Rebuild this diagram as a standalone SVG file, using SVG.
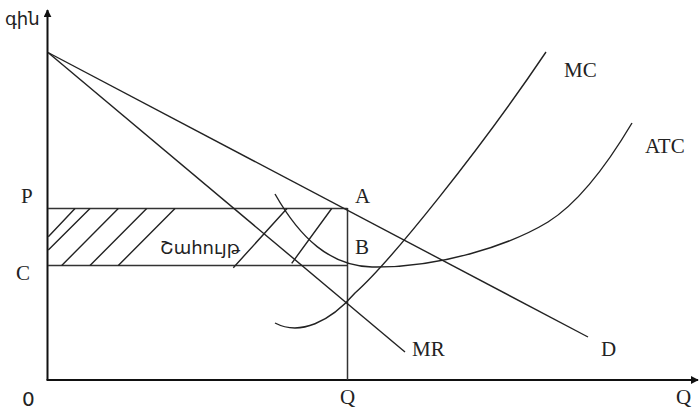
<svg xmlns="http://www.w3.org/2000/svg" width="699" height="412" viewBox="0 0 699 412">
<style>
.ax{stroke:#111;stroke-width:2;fill:none}
.ln{stroke:#222;stroke-width:1.4;fill:none}
.rc{stroke:#333;stroke-width:1.5;fill:none}
.serif{font-family:"Liberation Serif","Times New Roman",serif;font-size:21px;fill:#222}
.sans{font-family:"DejaVu Sans","Noto Sans","Liberation Sans",sans-serif;fill:#222}
</style>
<defs>
<marker id="arr" viewBox="0 0 10 10" refX="9" refY="5" markerWidth="8" markerHeight="8" markerUnits="userSpaceOnUse" orient="auto">
<path d="M0,0 L10,5 L0,10 Z" fill="#111"/>
</marker>
</defs>
<rect width="699" height="412" fill="#fff"/>
<g id="axes">
<path class="ax" d="M47.5,380 L47.5,10" marker-end="url(#arr)"/>
<path class="ax" d="M46.5,380 L698,380" marker-end="url(#arr)"/>
</g>
<g id="profit-area">
<path class="rc" d="M48,208.5 L347.5,208.5 M48,265.5 L347.5,265.5"/>
<path class="ln" d="M48.3,236.7 L75,208.5 M48.3,250 L90,208.5 M61.7,265.5 L118.3,208.5 M90,265.5 L146.7,208.5 M118.3,265.5 L175,208.5 M233.3,267.7 L287,208.5 M291.7,263.3 L331.7,208.5"/>
</g>
<g id="connectors">
<path class="rc" d="M347.5,208 L347.5,380"/>
<path id="D" class="ln" d="M48,52.5 L588,337"/>
<path id="MR" class="ln" d="M48,52.5 L405,352"/>
<path id="MC" class="ln" d="M275,323 C300,336 330,322 355,293 C390,262 480,150 546,52"/>
<path id="ATC" class="ln" d="M275,194 C300,238 330,266 372,267 C440,268 510,245 548,222 C580,202 610,160 632,123"/>
</g>
<g id="labels">
<text class="sans" x="5" y="25" font-size="18">գին</text>
<text class="serif" x="21" y="203">P</text>
<text class="serif" x="16" y="280">C</text>
<text class="serif" x="355" y="203">A</text>
<text class="serif" x="355" y="254">B</text>
<text class="serif" x="564" y="77">MC</text>
<text class="serif" x="645" y="153">ATC</text>
<text class="serif" x="412" y="356">MR</text>
<text class="serif" x="601" y="356">D</text>
<text class="serif" x="340" y="404">Q</text>
<text class="serif" x="676" y="404">Q</text>
<text class="sans" x="22" y="406" font-size="20">0</text>
<text class="sans" x="160" y="254" font-size="18">Շահույթ</text>
</g>
</svg>
